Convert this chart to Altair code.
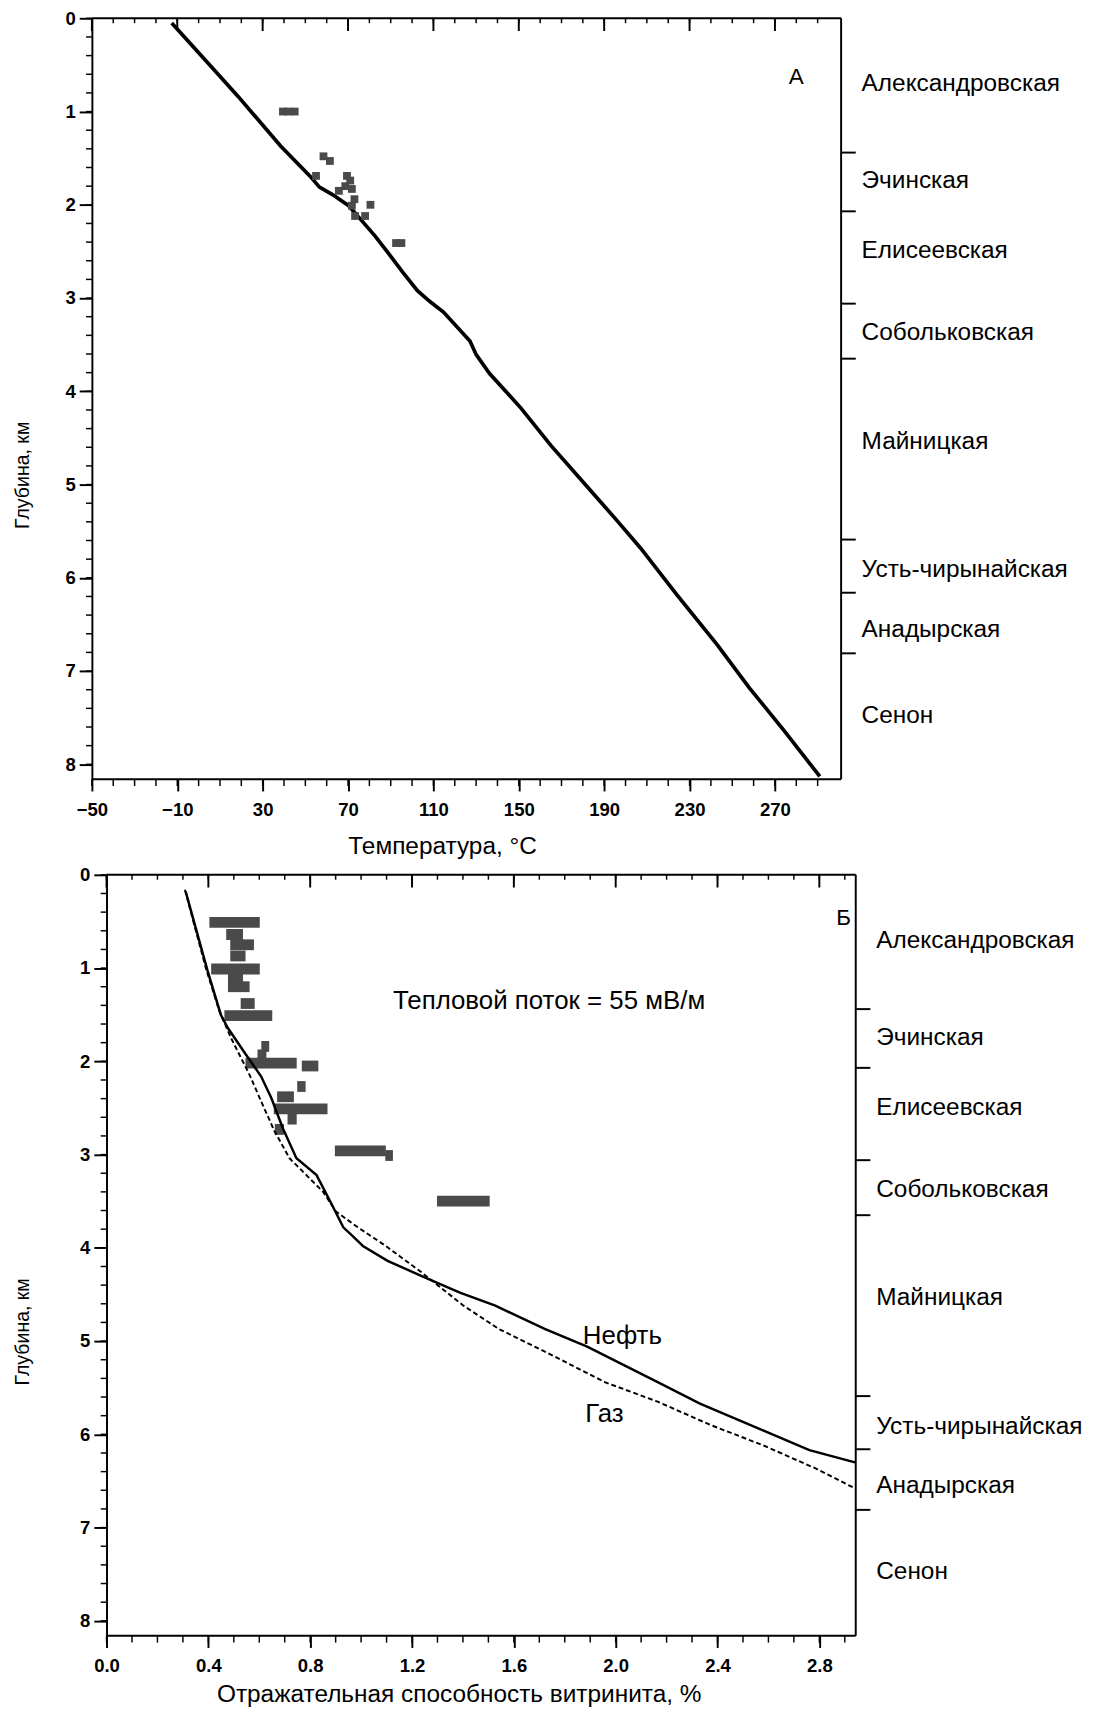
import altair as alt
import pandas as pd

# ---------------- Panel A: temperature profile ----------------
temp_T = [-12.6, 8.7, 18.6, 38.4, 52.1, 56.6, 62.7, 70.3, 76.4, 82.5, 88.6, 95.5, 102.5, 108.5,
          114.7, 127.1, 130.1, 136.3, 151.0, 165.0, 180.0, 195.0, 207.0, 224.0, 243.0, 258.0, 274.0, 291.0]
temp_D = [0.05, 0.59, 0.84, 1.37, 1.69, 1.81, 1.89, 2.01, 2.17, 2.33, 2.51, 2.72, 2.92, 3.04,
          3.15, 3.46, 3.61, 3.81, 4.18, 4.58, 4.97, 5.36, 5.68, 6.18, 6.72, 7.18, 7.63, 8.13]

meas_T = [39.5, 42.0, 45.0, 58.5, 61.5, 55.0, 69.5, 71.0, 68.7, 71.8, 65.7, 73.0, 71.8, 80.5, 73.3, 78.0, 92.5, 95.0]
meas_D = [1.00, 1.00, 1.00, 1.48, 1.53, 1.69, 1.69, 1.74, 1.80, 1.83, 1.85, 1.94, 2.01, 2.00, 2.12, 2.12, 2.41, 2.41]

# ---------------- Panel B: vitrinite reflectance ----------------
bar_depth = [0.51, 0.64, 0.75, 0.87, 1.01, 1.10, 1.20, 1.38, 1.51, 1.84, 1.93, 2.02, 2.05, 2.27, 2.38,
             2.51, 2.62, 2.73, 2.96, 3.01, 3.50]
bar_lo = [0.404, 0.470, 0.486, 0.486, 0.411, 0.477, 0.477, 0.527, 0.463, 0.608, 0.593, 0.546, 0.767, 0.749,
          0.670, 0.657, 0.711, 0.661, 0.897, 1.095, 1.298]
bar_hi = [0.602, 0.536, 0.579, 0.546, 0.602, 0.536, 0.562, 0.582, 0.651, 0.639, 0.628, 0.747, 0.832, 0.782,
          0.736, 0.868, 0.747, 0.697, 1.097, 1.125, 1.505]

oil_R = [0.311, 0.397, 0.449, 0.476, 0.548, 0.607, 0.647, 0.693, 0.746, 0.825, 0.884, 0.930, 0.965, 1.007,
         1.104, 1.236, 1.388, 1.527, 1.721, 1.888, 2.165, 2.331, 2.581, 2.761, 2.940]
oil_D = [0.18, 1.03, 1.50, 1.64, 1.93, 2.16, 2.39, 2.72, 3.04, 3.22, 3.53, 3.78, 3.87, 3.98,
         4.14, 4.30, 4.48, 4.62, 4.87, 5.06, 5.44, 5.67, 5.96, 6.17, 6.30]

gas_R = [0.308, 0.390, 0.443, 0.489, 0.561, 0.614, 0.660, 0.719, 0.785, 0.851, 0.901, 0.987, 1.097, 1.236,
         1.402, 1.541, 1.749, 1.957, 2.165, 2.373, 2.581, 2.789, 2.940]
gas_D = [0.16, 1.00, 1.46, 1.75, 2.14, 2.47, 2.75, 3.04, 3.22, 3.40, 3.61, 3.78, 3.98, 4.26,
         4.62, 4.87, 5.15, 5.44, 5.65, 5.90, 6.12, 6.37, 6.58]

# ---------------- Stratigraphy (shared) ----------------
form_bounds = [1.44, 2.07, 3.06, 3.65, 5.59, 6.16, 6.81]
form_names = ["Александровская", "Эчинская", "Елисеевская", "Собольковская", "Майницкая",
              "Усть-чирынайская", "Анадырская", "Сенон"]
form_label_D = [0.70, 1.74, 2.49, 3.37, 4.53, 5.91, 6.55, 7.47]

# ticks
A_major = [-50, -10, 30, 70, 110, 150, 190, 230, 270]
A_minor = list(range(-50, 300, 10))
B_major = [0.0, 0.4, 0.8, 1.2, 1.6, 2.0, 2.4, 2.8]
B_minor = [round(i * 0.1, 1) for i in range(30)]
D_major = [0, 1, 2, 3, 4, 5, 6, 7, 8]
D_minor = [round(i * 0.2, 1) for i in range(41)]

# ---------------- layout constants ----------------
W_A, W_B, H = 768, 768, 780
SHIFT_A = 15          # panel A frame sits this many px left of the shared column origin
D_DOMAIN = [0, 8.16]
A_DOMAIN = [-50, 301]
B_DOMAIN = [0, 2.943]
BAR_HALF = 0.058
FONT = "Liberation Sans, Arial, Helvetica, sans-serif"
GRAY = "#4a4a4a"

AXIS_STYLE = dict(domainColor="black", domainWidth=2, tickColor="black", tickWidth=2,
                  labelColor="black", titleColor="black", labelFont=FONT, titleFont=FONT,
                  labelFontSize=19, labelFontWeight="bold", titleFontWeight="normal", grid=False)


def yscale():
    return alt.Scale(domain=D_DOMAIN, reverse=True, nice=False, zero=False)


def make_xaxis(values, title, title_x, label_pad, title_pad, fmt):
    return alt.Axis(values=values, format=fmt, title=title, titleX=title_x, tickSize=12,
                    labelPadding=label_pad, titlePadding=title_pad, labelFlush=False,
                    titleFontSize=25, domain=False, **AXIS_STYLE)


def make_yaxis(title_pad, offset):
    return alt.Axis(values=D_major, format="d", title="Глубина, км", titleY=468, tickSize=13,
                    labelPadding=4, titlePadding=title_pad, titleFontSize=20, offset=offset,
                    **AXIS_STYLE)


def frame_layers(xscale, xax, yax, W, s, major_x, minor_x):
    """Frame, minor ticks, formation ticks and labels. Plot frame spans pixel -s .. W-s."""
    L, R = -s, W - s
    top_minor = alt.Chart(pd.DataFrame({"v": minor_x})).mark_rule(color="black", strokeWidth=1.5).encode(
        x=alt.X("v:Q", scale=xscale, axis=xax), y=alt.value(0), y2=alt.value(5))
    top_major = alt.Chart(pd.DataFrame({"v": major_x})).mark_rule(color="black", strokeWidth=2).encode(
        x=alt.X("v:Q", scale=xscale, axis=xax), y=alt.value(0), y2=alt.value(13))
    bottom_minor = alt.Chart(pd.DataFrame({"v": minor_x})).mark_rule(color="black", strokeWidth=1.5).encode(
        x=alt.X("v:Q", scale=xscale, axis=xax), y=alt.value(H), y2=alt.value(H + 7))
    left_minor = alt.Chart(pd.DataFrame({"v": D_minor})).mark_rule(color="black", strokeWidth=1.5).encode(
        y=alt.Y("v:Q", scale=yscale(), axis=yax), x=alt.value(L - 6), x2=alt.value(L))
    right_ticks = alt.Chart(pd.DataFrame({"v": form_bounds})).mark_rule(color="black", strokeWidth=2).encode(
        y=alt.Y("v:Q", scale=yscale(), axis=yax), x=alt.value(R), x2=alt.value(R + 15))
    labels = alt.Chart(pd.DataFrame({"d": form_label_D, "name": form_names})).mark_text(
        align="left", baseline="middle", font=FONT, fontSize=25, color="black").encode(
        y=alt.Y("d:Q", scale=yscale(), axis=yax), x=alt.value(R + 21), text="name:N")
    border_top = alt.Chart(pd.DataFrame({"v": [0]})).mark_rule(color="black", strokeWidth=2).encode(
        x=alt.value(L), x2=alt.value(R), y=alt.value(0))
    border_bottom = alt.Chart(pd.DataFrame({"v": [0]})).mark_rule(color="black", strokeWidth=2).encode(
        x=alt.value(L), x2=alt.value(R), y=alt.value(H))
    border_right = alt.Chart(pd.DataFrame({"v": [0]})).mark_rule(color="black", strokeWidth=2).encode(
        x=alt.value(R), y=alt.value(0), y2=alt.value(H))
    return [top_minor, top_major, bottom_minor, left_minor, right_ticks, labels,
            border_top, border_bottom, border_right]


# ---------------- Panel A ----------------
xsA = alt.Scale(domain=A_DOMAIN, range=[-SHIFT_A, W_A - SHIFT_A], nice=False, zero=False)
xaxA = make_xaxis(A_major, "Температура, °С", 359 - SHIFT_A, 10, 15, "d")
yaxA = make_yaxis(33, SHIFT_A)
dfA = pd.DataFrame({"T": temp_T, "D": temp_D, "i": range(len(temp_T))})
lineA = alt.Chart(dfA).mark_line(color="black", strokeWidth=3.8).encode(
    x=alt.X("T:Q", scale=xsA, axis=xaxA),
    y=alt.Y("D:Q", scale=yscale(), axis=yaxA),
    order="i:Q")
ptsA = alt.Chart(pd.DataFrame({"T": meas_T, "D": meas_D})).mark_square(
    size=64, color=GRAY, opacity=1).encode(
    x=alt.X("T:Q", scale=xsA, axis=xaxA), y=alt.Y("D:Q", scale=yscale(), axis=yaxA))
letterA = alt.Chart(pd.DataFrame({"T": [280], "D": [0.63], "t": ["А"]})).mark_text(
    font=FONT, fontSize=23, color="black").encode(
    x=alt.X("T:Q", scale=xsA, axis=xaxA), y=alt.Y("D:Q", scale=yscale(), axis=yaxA), text="t:N")

panelA = alt.layer(lineA, ptsA, letterA,
                   *frame_layers(xsA, xaxA, yaxA, W_A, SHIFT_A, A_major, A_minor)).properties(
    width=W_A - SHIFT_A, height=H)

# ---------------- Panel B ----------------
xsB = alt.Scale(domain=B_DOMAIN, range=[0, W_B], nice=False, zero=False)
xaxB = make_xaxis(B_major, "Отражательная способность витринита, %", 361, 10, 6, ".1f")
yaxB = make_yaxis(48, 0)
dfBars = pd.DataFrame({"d": bar_depth, "lo": bar_lo, "hi": bar_hi})
bars = alt.Chart(dfBars).transform_calculate(
    y1=f"datum.d - {BAR_HALF}", y2=f"datum.d + {BAR_HALF}").mark_rect(color=GRAY).encode(
    x=alt.X("lo:Q", scale=xsB, axis=xaxB),
    x2="hi:Q",
    y=alt.Y("y1:Q", scale=yscale(), axis=yaxB),
    y2="y2:Q")
oil = alt.Chart(pd.DataFrame({"R": oil_R, "D": oil_D, "i": range(len(oil_R))})).mark_line(
    color="black", strokeWidth=2.5).encode(
    x=alt.X("R:Q", scale=xsB, axis=xaxB), y=alt.Y("D:Q", scale=yscale(), axis=yaxB), order="i:Q")
gas = alt.Chart(pd.DataFrame({"R": gas_R, "D": gas_D, "i": range(len(gas_R))})).mark_line(
    color="black", strokeWidth=2, strokeDash=[5, 3]).encode(
    x=alt.X("R:Q", scale=xsB, axis=xaxB), y=alt.Y("D:Q", scale=yscale(), axis=yaxB), order="i:Q")

txtB = pd.DataFrame({
    "R": [1.125, 1.871, 1.88],
    "D": [1.36, 4.95, 5.78],
    "t": ["Тепловой поток = 55 мВ/м", "Нефть", "Газ"],
})
notesB = alt.Chart(txtB).mark_text(font=FONT, fontSize=26.5, align="left", baseline="middle",
                                   color="black").encode(
    x=alt.X("R:Q", scale=xsB, axis=xaxB), y=alt.Y("D:Q", scale=yscale(), axis=yaxB), text="t:N")
letterB = alt.Chart(pd.DataFrame({"R": [2.895], "D": [0.47], "t": ["Б"]})).mark_text(
    font=FONT, fontSize=23, color="black").encode(
    x=alt.X("R:Q", scale=xsB, axis=xaxB), y=alt.Y("D:Q", scale=yscale(), axis=yaxB), text="t:N")

panelB = alt.layer(bars, oil, gas, notesB, letterB,
                   *frame_layers(xsB, xaxB, yaxB, W_B, 0, B_major, B_minor)).properties(
    width=W_B, height=H)

chart = alt.vconcat(panelA, panelB, spacing=6).properties(
    padding={"left": 4, "top": -21, "right": 2, "bottom": 0}
).configure_view(stroke="transparent")

chart.save("out.html", embed_options={"renderer": "svg", "actions": False})
